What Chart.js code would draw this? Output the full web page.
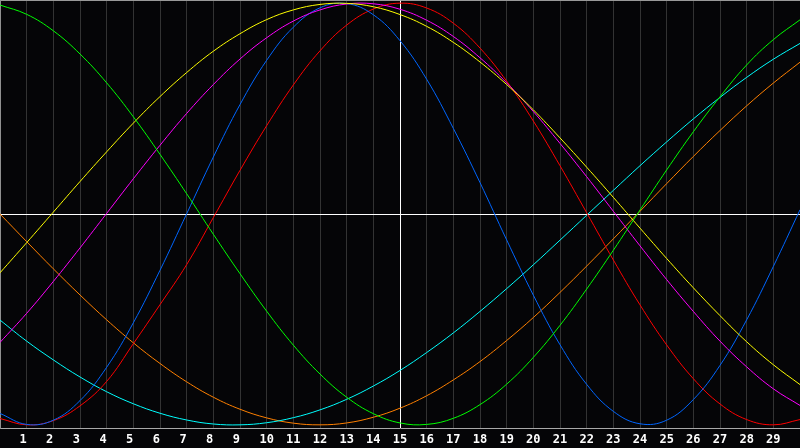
<!DOCTYPE html>
<html>
<head>
<meta charset="utf-8">
<script src="https://cdn.jsdelivr.net/npm/chart.js@4/dist/chart.umd.min.js"></script>
<style>
  html, body { margin: 0; padding: 0; background: #050507; }
  #wrap { width: 800px; height: 448px; position: relative; background: #050507; }
  canvas { display: block; }
</style>
</head>
<body>
<div id="wrap"><canvas id="c" width="800" height="448"></canvas></div>
<script>
const xValues = [0,1,2,3,4,5,6,7,8,9,10,11,12,13,14,15,16,17,18,19,20,21,22,23,24,25,26,27,28,29,30];
const xTickLabels = ["1","2","3","4","5","6","7","8","9","10","11","12","13","14","15","16","17","18","19","20","21","22","23","24","25","26","27","28","29"];

const greenSeries = [0.991,0.947,0.869,0.759,0.622,0.461,0.283,0.096,-0.096,-0.283,-0.461,-0.622,-0.759,-0.869,-0.947,-0.991,-0.998,-0.969,-0.904,-0.807,-0.680,-0.528,-0.356,-0.172,0.019,0.209,0.390,0.556,0.707,0.827,0.921];
const yellowSeries = [-0.279,-0.136,0.009,0.154,0.295,0.431,0.557,0.671,0.772,0.855,0.922,0.968,0.994,0.999,0.983,0.946,0.890,0.814,0.721,0.614,0.494,0.361,0.222,0.079,-0.067,-0.211,-0.350,-0.482,-0.606,-0.715,-0.809];
const magentaSeries = [-0.609,-0.471,-0.320,-0.161,0.003,0.167,0.326,0.477,0.614,0.735,0.836,0.915,0.968,0.996,0.997,0.971,0.919,0.842,0.741,0.622,0.486,0.335,0.177,0.013,-0.151,-0.311,-0.462,-0.603,-0.725,-0.829,-0.908];
const blueSeries = [-0.946,-0.998,-0.978,-0.885,-0.727,-0.516,-0.267,0.001,0.270,0.519,0.729,0.886,0.978,0.998,0.945,0.822,0.639,0.406,0.149,-0.123,-0.385,-0.620,-0.808,-0.936,-0.995,-0.978,-0.880,-0.718,-0.502,-0.249,0.020];
const redSeries = [-0.970,-1.000,-0.980,-0.910,-0.794,-0.615,-0.430,-0.240,-0.017,0.207,0.419,0.612,0.774,0.896,0.972,1.000,0.977,0.905,0.787,0.630,0.441,0.229,0.006,-0.218,-0.431,-0.621,-0.781,-0.901,-0.975,-1.000,-0.975];
const cyanSeries = [-0.503,-0.603,-0.692,-0.773,-0.843,-0.900,-0.945,-0.977,-0.996,-1.000,-0.990,-0.966,-0.929,-0.879,-0.816,-0.742,-0.657,-0.564,-0.462,-0.354,-0.241,-0.124,-0.006,0.112,0.229,0.342,0.451,0.553,0.648,0.734,0.809];
const orangeSeries = [0,-0.131,-0.260,-0.384,-0.502,-0.611,-0.709,-0.796,-0.869,-0.926,-0.967,-0.992,-1.000,-0.991,-0.964,-0.921,-0.862,-0.787,-0.700,-0.600,-0.491,-0.372,-0.247,-0.118,0.013,0.144,0.273,0.396,0.513,0.621,0.720];

const seriesList = [
  { name: "green",   values: greenSeries,   color: "#00ff00" },
  { name: "yellow",  values: yellowSeries,  color: "#ffff00" },
  { name: "magenta", values: magentaSeries, color: "#ff00ff" },
  { name: "blue",    values: blueSeries,    color: "#0066ff" },
  { name: "red",     values: redSeries,     color: "#ff0000" },
  { name: "cyan",    values: cyanSeries,    color: "#00ffff" },
  { name: "orange",  values: orangeSeries,  color: "#ff8000" }
];

const Y_LIMIT = 1.015;

const datasets = seriesList.map(s => ({
  label: s.name,
  data: s.values.map((v, i) => ({ x: xValues[i], y: v })),
  borderColor: s.color,
  borderWidth: 1,
  pointRadius: 0,
  pointHoverRadius: 0,
  tension: 0.4,
  fill: false
}));

new Chart(document.getElementById("c"), {
  type: "line",
  data: { datasets },
  options: {
    responsive: false,
    animation: false,
    events: [],
    layout: { autoPadding: false, padding: { left: 0, right: 0, top: 0, bottom: 0 } },
    plugins: { legend: { display: false }, tooltip: { enabled: false } },
    scales: {
      x: {
        type: "linear",
        min: 0,
        max: 30,
        offset: false,
        afterFit: scale => {
          scale.paddingLeft = 0;
          scale.paddingRight = 0;
          scale.height = 20;
        },
        grid: {
          drawTicks: false,
          color: ctx => {
            const v = ctx.tick ? ctx.tick.value : null;
            if (v === 15) return "#ffffff";
            if (v === 0 || v === 30) return "rgba(0,0,0,0)";
            return "#333333";
          },
          lineWidth: 1
        },
        border: { display: true, color: "#a8a8a8", width: 1 },
        ticks: {
          stepSize: 1,
          autoSkip: false,
          maxRotation: 0,
          padding: 5,
          color: "#ffffff",
          font: { family: "'DejaVu Sans Mono', monospace", size: 12, weight: "bold", lineHeight: 1.1 },
          callback: (value) => {
            const lbl = xTickLabels[value - 1];
            if (lbl === undefined) return "";
            return lbl.length === 1 ? lbl + " " : lbl;
          }
        }
      },
      y: {
        type: "linear",
        min: -Y_LIMIT,
        max: Y_LIMIT,
        afterFit: scale => {
          scale.width = 0;
          scale.paddingTop = 0;
          scale.paddingBottom = 0;
        },
        afterBuildTicks: scale => {
          scale.ticks = [{ value: -Y_LIMIT }, { value: 0 }, { value: Y_LIMIT }];
        },
        grid: {
          drawTicks: false,
          color: ctx => {
            const v = ctx.tick ? ctx.tick.value : null;
            if (v === 0) return "#ffffff";
            if (v === Y_LIMIT) return "#999999";
            return "rgba(0,0,0,0)";
          },
          lineWidth: 1
        },
        border: { display: true, color: "#909090", width: 1 },
        ticks: { display: false }
      }
    }
  }
});
</script>
</body>
</html>
